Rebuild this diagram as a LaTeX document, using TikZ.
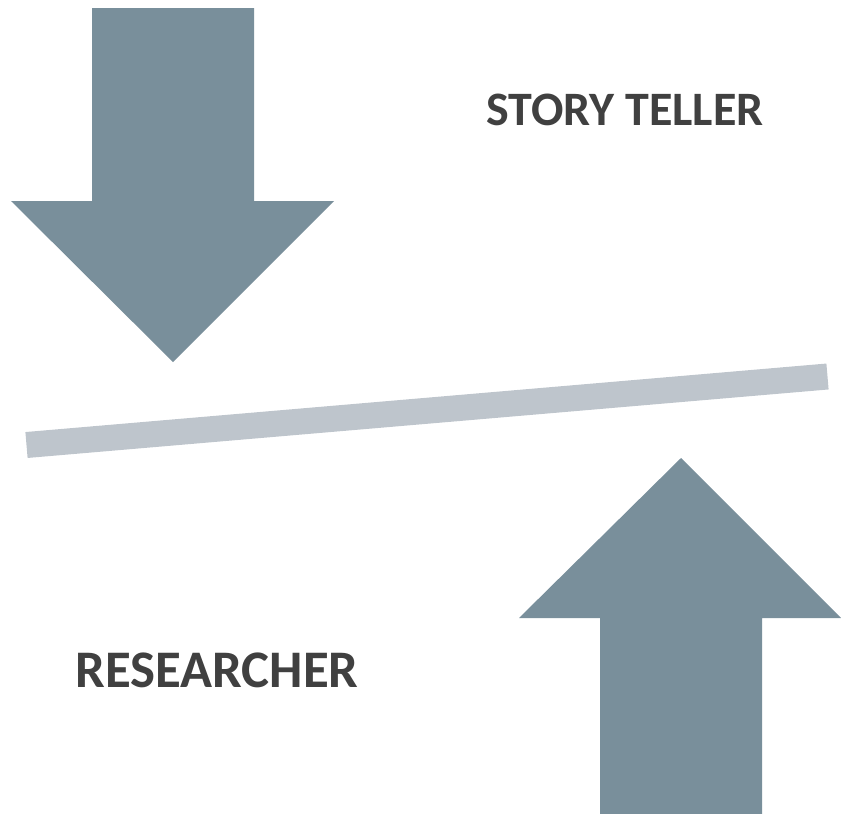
\documentclass[tikz,border=0pt]{standalone}
\usepackage{fontspec}
\setmainfont{Carlito}
\definecolor{arrowc}{HTML}{798F9B}
\definecolor{barc}{HTML}{BEC5CC}
\definecolor{textc}{HTML}{404040}
\tikzset{
  bigarrow/.style={fill=arrowc, draw=none},
  label/.style={text=textc, font=\bfseries, inner sep=0pt, anchor=center},
}
\begin{document}
\begin{tikzpicture}[x=1pt,y=-1pt]
\useasboundingbox (0,0) rectangle (841,814);
% down arrow
\fill[bigarrow] (92,8) -- (254,8) -- (254,201) -- (334,201) -- (173,362) -- (11,201) -- (92,201) -- cycle;
% up arrow
\fill[bigarrow] (600,814) -- (600,618) -- (519,618) -- (681,458) -- (841,618) -- (762,618) -- (762,814) -- cycle;
% bar
\coordinate (bl) at (26.5,445);
\coordinate (br) at (827.5,376.5);
\draw[barc, line width=26pt] (bl) -- (br);
\node[label, font=\bfseries\fontsize{48}{56}\selectfont] (st) at (625,110) {STORY TELLER};
\node[label, font=\bfseries\fontsize{52.8}{60}\selectfont] (re) at (217,670) {RESEARCHER};
\end{tikzpicture}
\end{document}
